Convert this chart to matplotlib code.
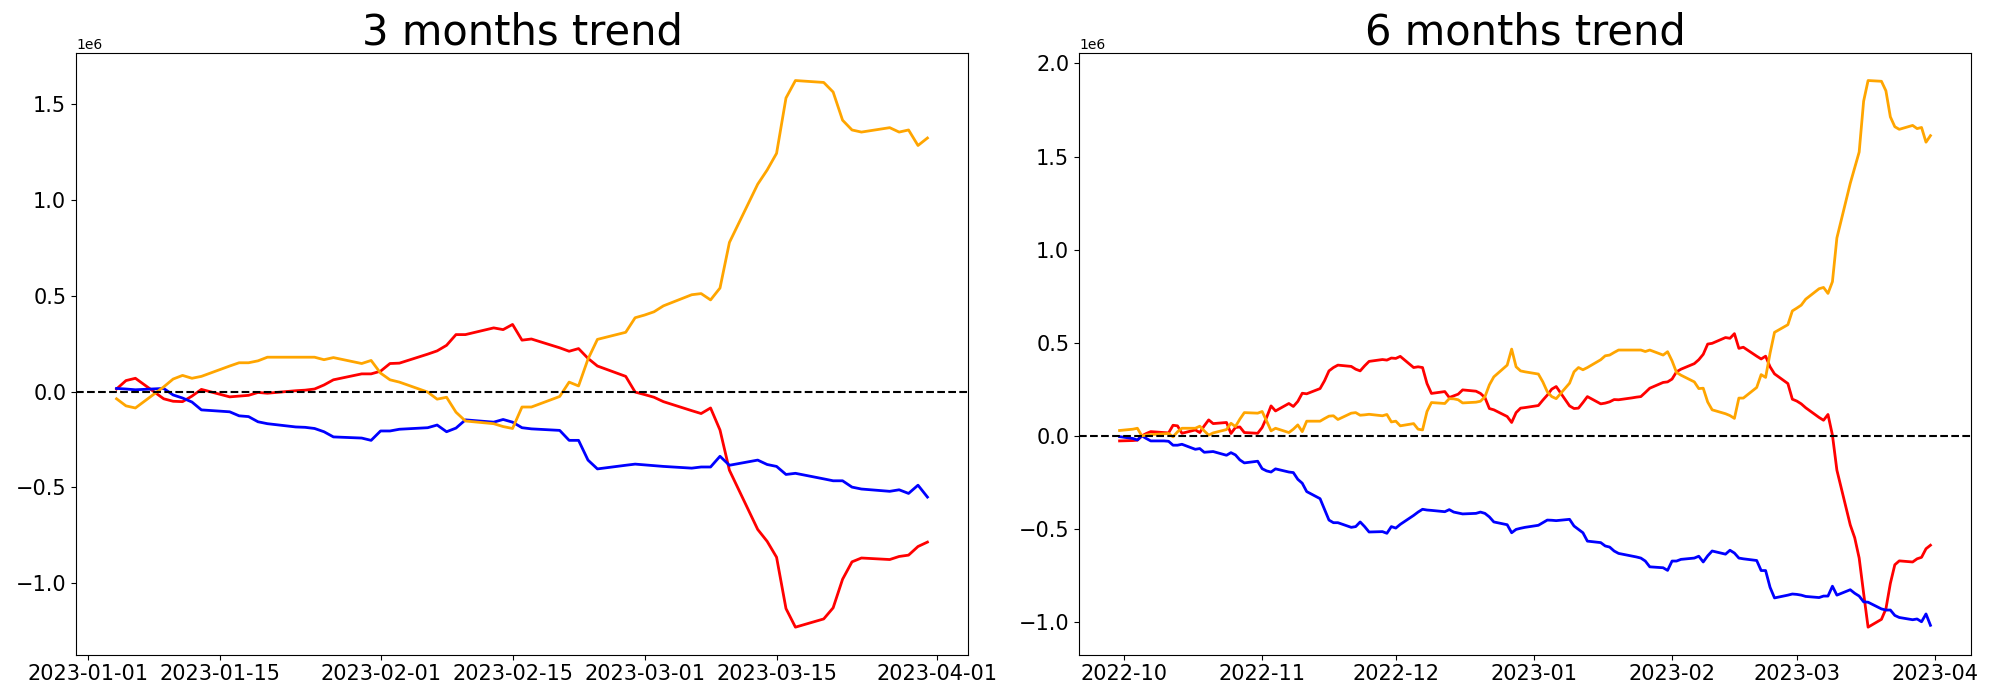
import numpy as np
import pandas as pd
import matplotlib
matplotlib.use("Agg")
import matplotlib.pyplot as plt

# ---------------- 3 months (business days 2023-01-04 .. 2023-03-31) -------------
dates_3m = pd.bdate_range("2023-01-04", "2023-03-31")

orange_3m = [
    -0.037, -0.074, -0.085, 0.025, 0.066, 0.085, 0.070, 0.080, 0.134, 0.151,
    0.151, 0.161, 0.180, 0.180, 0.180, 0.180, 0.167, 0.178, 0.147, 0.163,
    0.097, 0.062, 0.050, -0.002, -0.039, -0.029, -0.107, -0.153, -0.167, -0.182,
    -0.192, -0.080, -0.080, -0.025, 0.050, 0.030, 0.170, 0.273, 0.310, 0.386,
    0.400, 0.417, 0.448, 0.506, 0.512, 0.479, 0.541, 0.779, 1.083, 1.157,
    1.244, 1.533, 1.624, 1.614, 1.564, 1.417, 1.366, 1.355, 1.378, 1.355,
    1.366, 1.285, 1.324,
]
red_3m = [
    0.014, 0.058, 0.070, -0.037, -0.050, -0.052, -0.023, 0.012, -0.027, -0.023,
    -0.019, -0.004, -0.008, 0.005, 0.008, 0.014, 0.035, 0.062, 0.093, 0.093,
    0.107, 0.147, 0.149, 0.196, 0.213, 0.242, 0.298, 0.298, 0.333, 0.324,
    0.351, 0.269, 0.275, 0.229, 0.211, 0.225, 0.174, 0.134, 0.080, -0.002,
    -0.015, -0.029, -0.052, -0.099, -0.114, -0.085, -0.200, -0.410, -0.719, -0.781,
    -0.864, -1.132, -1.229, -1.186, -1.128, -0.979, -0.888, -0.868, -0.876, -0.860,
    -0.853, -0.808, -0.785,
]
blue_3m = [
    0.017, 0.014, 0.010, 0.017, -0.017, -0.033, -0.054, -0.095, -0.105, -0.126,
    -0.130, -0.157, -0.167, -0.184, -0.186, -0.192, -0.209, -0.236, -0.242, -0.254,
    -0.205, -0.205, -0.196, -0.188, -0.174, -0.209, -0.190, -0.147, -0.159, -0.145,
    -0.159, -0.188, -0.194, -0.202, -0.254, -0.254, -0.357, -0.403, -0.384, -0.378,
    -0.382, -0.386, -0.390, -0.399, -0.393, -0.393, -0.337, -0.384, -0.357, -0.380,
    -0.390, -0.432, -0.426, -0.455, -0.465, -0.465, -0.498, -0.508, -0.520, -0.512,
    -0.531, -0.488, -0.550,
]

# ---------------- 6 months (business days 2022-09-30 .. 2023-03-31) -------------
dates_6m = pd.bdate_range("2022-09-30", "2023-03-31")

orange_6m = [
    0.029,
    0.036, 0.041, 0.000, 0.005, 0.007, 0.011, 0.013, -0.005, 0.022, 0.041,
    0.041, 0.052, 0.027, 0.004, 0.016, 0.034, 0.068, 0.050, 0.090, 0.125, 0.122,
    0.131, 0.080, 0.027, 0.041, 0.018, 0.036, 0.059, 0.023, 0.079, 0.079, 0.093,
    0.106, 0.108, 0.088, 0.122, 0.125, 0.111, 0.113, 0.116, 0.108, 0.115, 0.075,
    0.079, 0.054, 0.066, 0.036, 0.032, 0.131, 0.179, 0.174, 0.200, 0.199, 0.194,
    0.177, 0.181, 0.186, 0.210, 0.274, 0.317, 0.380, 0.466, 0.371, 0.349, 0.344,
    0.332, 0.290, 0.237, 0.211, 0.200, 0.283, 0.344, 0.367, 0.355, 0.367, 0.409,
    0.430, 0.434, 0.448, 0.461, 0.461, 0.461, 0.461, 0.453, 0.461, 0.434, 0.452,
    0.403, 0.341, 0.326, 0.290, 0.254, 0.256, 0.182, 0.140, 0.119, 0.109, 0.094,
    0.203, 0.203, 0.260, 0.329, 0.314, 0.444, 0.556, 0.597, 0.671,
    0.686, 0.702, 0.734, 0.790, 0.797, 0.765, 0.828, 1.063, 1.356, 1.440, 1.524,
    1.797, 1.908, 1.904, 1.853, 1.713, 1.660, 1.646, 1.667, 1.650, 1.656, 1.577, 1.612,
]
red_6m = [
    -0.027,
    -0.025, -0.023, 0.000, 0.013, 0.023, 0.018, 0.016, 0.057, 0.054, 0.014,
    0.032, 0.018, 0.054, 0.086, 0.066, 0.072, 0.013, 0.045, 0.048, 0.018, 0.014,
    0.045, 0.099, 0.161, 0.134, 0.174, 0.158, 0.185, 0.229, 0.226, 0.254, 0.296,
    0.349, 0.367, 0.380, 0.373, 0.358, 0.349, 0.376, 0.400, 0.410, 0.407, 0.418,
    0.416, 0.427, 0.367, 0.371, 0.367, 0.281, 0.228, 0.238, 0.206, 0.215, 0.224,
    0.247, 0.240, 0.228, 0.206, 0.147, 0.140, 0.104, 0.072, 0.125, 0.149, 0.152,
    0.163, 0.192, 0.219, 0.251, 0.265, 0.161, 0.147, 0.149, 0.179, 0.211, 0.172,
    0.176, 0.183, 0.195, 0.194, 0.204, 0.208, 0.211, 0.233, 0.256, 0.287, 0.290,
    0.305, 0.344, 0.358, 0.388, 0.409, 0.438, 0.493, 0.497, 0.528, 0.524, 0.549,
    0.470, 0.476, 0.428, 0.413, 0.428, 0.371, 0.333, 0.281, 0.197,
    0.187, 0.172, 0.151, 0.099, 0.084, 0.115, 0.004, -0.184, -0.478, -0.547, -0.656,
    -0.845, -1.027, -0.985, -0.929, -0.792, -0.692, -0.671, -0.677, -0.660, -0.652,
    -0.606, -0.587,
]
blue_6m = [
    -0.004,
    -0.014, -0.022, 0.000, -0.014, -0.027, -0.027, -0.029, -0.050, -0.050, -0.045,
    -0.072, -0.068, -0.088, -0.086, -0.084, -0.104, -0.090, -0.102, -0.129, -0.145, -0.136,
    -0.176, -0.188, -0.194, -0.177, -0.194, -0.197, -0.233, -0.254, -0.299, -0.337, -0.394,
    -0.452, -0.466, -0.466, -0.491, -0.487, -0.462, -0.487, -0.516, -0.514, -0.523, -0.487,
    -0.495, -0.475, -0.427, -0.409, -0.394, -0.398, -0.400, -0.407, -0.396, -0.409, -0.414,
    -0.419, -0.416, -0.409, -0.416, -0.435, -0.462, -0.477, -0.520, -0.502, -0.496, -0.491,
    -0.480, -0.466, -0.452, -0.453, -0.455, -0.448, -0.484, -0.502, -0.520, -0.565, -0.573,
    -0.591, -0.597, -0.618, -0.631, -0.645, -0.650, -0.656, -0.672, -0.703, -0.708, -0.722,
    -0.672, -0.672, -0.663, -0.656, -0.646, -0.677, -0.644, -0.618, -0.635, -0.614, -0.629,
    -0.656, -0.660, -0.669, -0.723, -0.723, -0.813, -0.870, -0.855, -0.849,
    -0.851, -0.855, -0.862, -0.868, -0.860, -0.860, -0.807, -0.855, -0.826, -0.845, -0.860,
    -0.891, -0.893, -0.929, -0.935, -0.935, -0.964, -0.975, -0.987, -0.983, -0.998,
    -0.956, -1.017,
]

titles = ["3 months trend", "6 months trend"]
SCALE = 1e6

fig, axes = plt.subplots(1, 2, figsize=(20, 7), dpi=100)
fig.subplots_adjust(left=0.038, right=0.9855, bottom=0.065, top=0.924, wspace=0.1245)

panels = [
    (dates_3m, red_3m, blue_3m, orange_3m),
    (dates_6m, red_6m, blue_6m, orange_6m),
]

for ax, (dates, r, b, o), title in zip(axes, panels, titles):
    ax.plot(dates, np.array(r) * SCALE, color="red", lw=2)
    ax.plot(dates, np.array(b) * SCALE, color="blue", lw=2)
    ax.plot(dates, np.array(o) * SCALE, color="orange", lw=2)
    ax.axhline(0, color="black", ls="--", lw=1.5)
    ax.set_title(title, fontsize=30)
    ax.tick_params(labelsize=15)

fig.savefig("out.png", dpi=100)
